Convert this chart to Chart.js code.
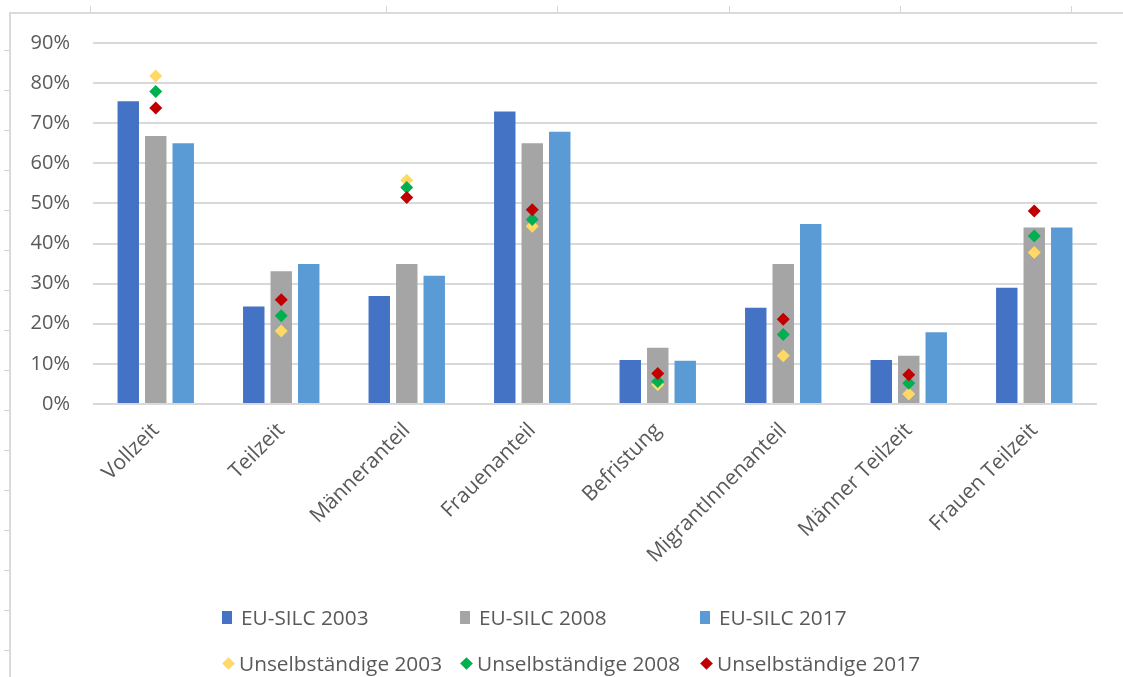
<!DOCTYPE html>
<html lang="de">
<head>
<meta charset="utf-8">
<title>EU-SILC Anteile</title>
<script src="https://cdn.jsdelivr.net/npm/chart.js@4.4.1/dist/chart.umd.min.js"></script>
<style>
  html, body { margin: 0; padding: 0; background: #ffffff; }
  #wrap { position: relative; width: 1123px; height: 677px; overflow: hidden; font-family: 'Open Sans', sans-serif; }
  #chart { position: absolute; left: 0; top: 0; }
  .frame-top { position: absolute; left: 10px; top: 12px; width: 1113px; height: 0; border-top: 2px solid #dadada; }
  .frame-left { position: absolute; left: 9px; top: 12px; width: 0; height: 665px; border-left: 2px solid #dadada; }
  .tick-top { position: absolute; top: 6px; width: 1px; height: 7px; background: #d6d6d6; }
  .tick-left { position: absolute; left: 4px; width: 6px; height: 1px; background: #d6d6d6; }
  .legend-item { position: absolute; height: 24px; display: flex; align-items: center; font-size: 20.8px; color: #595959; white-space: nowrap; }
  .key-box { width: 10px; height: 13px; margin-right: 9px; }
  .key-diamond { width: 9px; height: 9px; transform: rotate(45deg); margin: 0 6px 0 2px; }
</style>
</head>
<body>
<div id="wrap">
  <canvas id="chart" width="1123" height="677"></canvas>
  <div class="frame-top"></div>
  <div class="frame-left"></div>
  <div id="legend"></div>
</div>
<script>
// Kategorien und Werte (Anteile in %)
const categories = ['Vollzeit', 'Teilzeit', 'Männeranteil', 'Frauenanteil', 'Befristung', 'MigrantInnenanteil', 'Männer Teilzeit', 'Frauen Teilzeit'];
const silc2003 = [75.5, 24.3, 26.9, 72.9, 11.0, 24.0, 11.0, 29.0];
const silc2008 = [66.8, 33.1, 34.9, 65.0, 14.0, 34.9, 12.0, 44.0];
const silc2017 = [65.0, 34.9, 32.0, 67.9, 10.8, 44.9, 17.9, 44.0];
const unselb2003 = [81.8, 18.2, 55.8, 44.3, 4.8, 12.0, 2.5, 37.8];
const unselb2008 = [77.9, 22.0, 54.0, 46.0, 5.6, 17.3, 5.2, 41.9];
const unselb2017 = [73.8, 26.0, 51.5, 48.4, 7.6, 21.1, 7.3, 48.1];
const yTicks = [0, 10, 20, 30, 40, 50, 60, 70, 80, 90];

const TEXT = '#595959';
const GRID = '#d9d9d9';
const FONT_Y = { family: "'Open Sans', sans-serif", size: 20 };
const FONT_X = { family: "'Open Sans', sans-serif", size: 21 };

const barSeries = [
  { label: 'EU-SILC 2003', data: silc2003, color: '#4472c4' },
  { label: 'EU-SILC 2008', data: silc2008, color: '#a5a5a5' },
  { label: 'EU-SILC 2017', data: silc2017, color: '#5b9bd5' }
];
const pointSeries = [
  { label: 'Unselbständige 2003', data: unselb2003, color: '#ffd966', order: 3 },
  { label: 'Unselbständige 2008', data: unselb2008, color: '#00b050', order: 2 },
  { label: 'Unselbständige 2017', data: unselb2017, color: '#c00000', order: 1 }
];

const datasets = [
  ...barSeries.map(s => ({
    type: 'bar', label: s.label, data: s.data,
    backgroundColor: s.color, borderWidth: 0,
    categoryPercentage: 0.657, barPercentage: 0.78, order: 4
  })),
  ...pointSeries.map(s => ({
    type: 'line', label: s.label, data: s.data,
    showLine: false, pointStyle: 'rectRot', pointRadius: 6.5,
    pointBackgroundColor: s.color, pointBorderColor: s.color, pointBorderWidth: 0,
    order: s.order
  }))
];

new Chart(document.getElementById('chart'), {
  type: 'bar',
  data: { labels: categories, datasets },
  options: {
    responsive: false,
    devicePixelRatio: 1,
    animation: false,
    layout: { padding: { top: 43, right: 26, left: 0, bottom: 0 } },
    plugins: { legend: { display: false }, tooltip: { enabled: false } },
    scales: {
      x: {
        grid: { display: false },
        border: { display: false },
        ticks: { color: TEXT, font: FONT_X, minRotation: 45, maxRotation: 45, padding: 6, autoSkip: false },
        afterFit: s => { s.height = 273; }
      },
      y: {
        min: 0, max: 90,
        afterBuildTicks: s => { s.ticks = yTicks.map(v => ({ value: v })); },
        grid: { color: GRID, lineWidth: 2, drawTicks: false },
        border: { display: false },
        ticks: { color: TEXT, font: FONT_Y, padding: 23, callback: v => v + '%' },
        afterFit: s => { s.width = 93; }
      }
    }
  }
});

// Legende als HTML, drei Spalten in zwei Zeilen
const legend = document.getElementById('legend');
const legendCols = [222, 460, 700];
const legendRows = [605, 651];
barSeries.forEach((s, i) => {
  const el = document.createElement('div');
  el.className = 'legend-item';
  el.style.left = legendCols[i] + 'px';
  el.style.top = legendRows[0] + 'px';
  el.innerHTML = '<span class="key-box" style="background:' + s.color + '"></span>' + s.label;
  legend.appendChild(el);
});
pointSeries.forEach((s, i) => {
  const el = document.createElement('div');
  el.className = 'legend-item';
  el.style.left = legendCols[i] + 'px';
  el.style.top = legendRows[1] + 'px';
  el.innerHTML = '<span class="key-diamond" style="background:' + s.color + '"></span>' + s.label;
  legend.appendChild(el);
});

// Rahmenmarkierungen oben und links
const wrap = document.getElementById('wrap');
[90, 386, 557, 729, 900, 1071].forEach(x => {
  const t = document.createElement('div');
  t.className = 'tick-top';
  t.style.left = x + 'px';
  wrap.appendChild(t);
});
for (let y = 50; y <= 650; y += 40) {
  const t = document.createElement('div');
  t.className = 'tick-left';
  t.style.top = y + 'px';
  wrap.appendChild(t);
}
</script>
</body>
</html>
